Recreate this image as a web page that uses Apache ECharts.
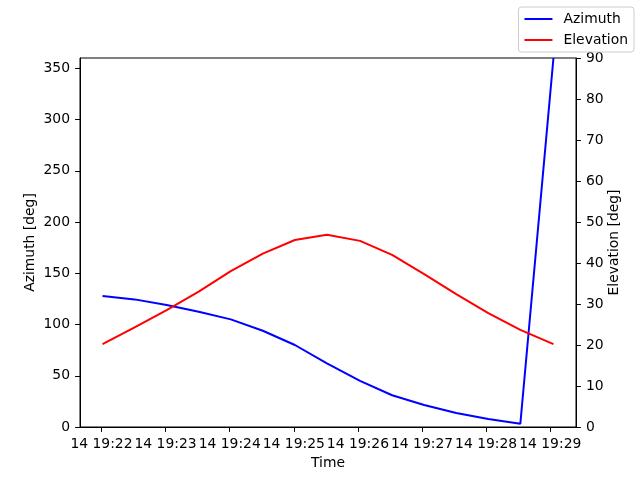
<!DOCTYPE html>
<html>
<head>
<meta charset="utf-8">
<script src="https://cdn.jsdelivr.net/npm/echarts@6/dist/echarts.min.js"></script>
<style>html,body{margin:0;padding:0;background:#fff}#c{width:640px;height:480px}</style>
</head>
<body>
<div id="c"></div>
<script>
const times = ["19:22:01","19:22:31","19:23:01","19:23:31","19:24:01","19:24:31","19:25:01","19:25:31","19:26:02","19:26:32","19:27:02","19:27:32","19:28:02","19:28:32","19:29:03"];
const azimuth = [127.7,124.5,119,112.5,105,93.9,80,62,45,31,21.5,13.6,7.8,3.2,360];
const elevation = [20.2,24.3,28.5,33.0,38.0,42.3,45.6,46.9,45.4,42.0,37.3,32.4,27.8,23.7,20.2];
const xTickTimes = ["19:22","19:23","19:24","19:25","19:26","19:27","19:28","19:29"];
const xTickLabels = ["14 19:22","14 19:23","14 19:24","14 19:25","14 19:26","14 19:27","14 19:28","14 19:29"];
const azTicks = [0,50,100,150,200,250,300,350];

function toSec(s){const p=s.split(':').map(Number);return p[0]*3600+p[1]*60+(p[2]||0);}
const xs = times.map(toSec);
const xTickVals = xTickTimes.map(toSec);
const labelMap = {};
xTickVals.forEach((v,i)=>labelMap[v]=xTickLabels[i]);
const span = xs[xs.length-1]-xs[0];
const xmin = xs[0]-0.05*span, xmax = xs[xs.length-1]+0.05*span;

const FONT = 'DejaVu Sans';
const FS = 13.9;
const TL = 4.9;
const chart = echarts.init(document.getElementById('c'), null, {renderer:'canvas'});
chart.setOption({
  animation:false,
  textStyle:{fontFamily:FONT},
  grid:{left:80,right:64,top:58,bottom:53,show:true,borderColor:'#000',borderWidth:1,backgroundColor:'transparent'},
  legend:{
    right:6, top:7, orient:'vertical',
    backgroundColor:'rgba(255,255,255,0.8)',
    borderColor:'#cccccc', borderWidth:1, borderRadius:3,
    padding:[5,6,5,6], itemGap:7,
    itemWidth:28, itemHeight:2, icon:'rect',
    textStyle:{fontFamily:FONT,fontSize:FS,color:'#000',padding:[0,0,0,6]},
    data:['Azimuth','Elevation']
  },
  xAxis:{
    type:'value', min:xmin, max:xmax,
    name:'Time', nameLocation:'middle', nameGap:29, nameMoveOverlap:false,
    nameTextStyle:{fontFamily:FONT,fontSize:FS,color:'#000'},
    axisLine:{show:true,lineStyle:{color:'#000',width:1}},
    axisTick:{show:true,inside:false,length:TL,lineStyle:{color:'#000'},customValues:xTickVals},
    axisLabel:{color:'#000',fontFamily:FONT,fontSize:FS,margin:10,customValues:xTickVals,
      formatter:v=>labelMap[v]!==undefined?labelMap[v]:''},
    splitLine:{show:false}
  },
  yAxis:[{
    type:'value', min:0, max:360, position:'left',
    name:'Azimuth [deg]', nameLocation:'middle', nameGap:43, nameRotate:90, nameMoveOverlap:false,
    nameTextStyle:{fontFamily:FONT,fontSize:FS,color:'#000'},
    axisLine:{show:true,lineStyle:{color:'#000'}},
    axisTick:{show:true,inside:false,length:TL,lineStyle:{color:'#000'},customValues:azTicks},
    axisLabel:{color:'#000',fontFamily:FONT,fontSize:FS,margin:10,customValues:azTicks},
    splitLine:{show:false}
  },{
    type:'value', min:0, max:90, interval:10, position:'right',
    name:'Elevation [deg]', nameLocation:'middle', nameGap:31, nameRotate:90, nameMoveOverlap:false,
    nameTextStyle:{fontFamily:FONT,fontSize:FS,color:'#000'},
    axisLine:{show:true,lineStyle:{color:'#000'}},
    axisTick:{show:true,inside:false,length:TL,lineStyle:{color:'#000'}},
    axisLabel:{color:'#000',fontFamily:FONT,fontSize:FS,margin:10},
    splitLine:{show:false}
  }],
  series:[{
    name:'Azimuth', type:'line', yAxisIndex:0, showSymbol:false, symbol:'none',
    lineStyle:{color:'#0000ff',width:2}, itemStyle:{color:'#0000ff'},
    data: xs.map((x,i)=>[x,azimuth[i]])
  },{
    name:'Elevation', type:'line', yAxisIndex:1, showSymbol:false, symbol:'none',
    lineStyle:{color:'#ff0000',width:2}, itemStyle:{color:'#ff0000'},
    data: xs.map((x,i)=>[x,elevation[i]])
  }]
});
</script>
</body>
</html>
